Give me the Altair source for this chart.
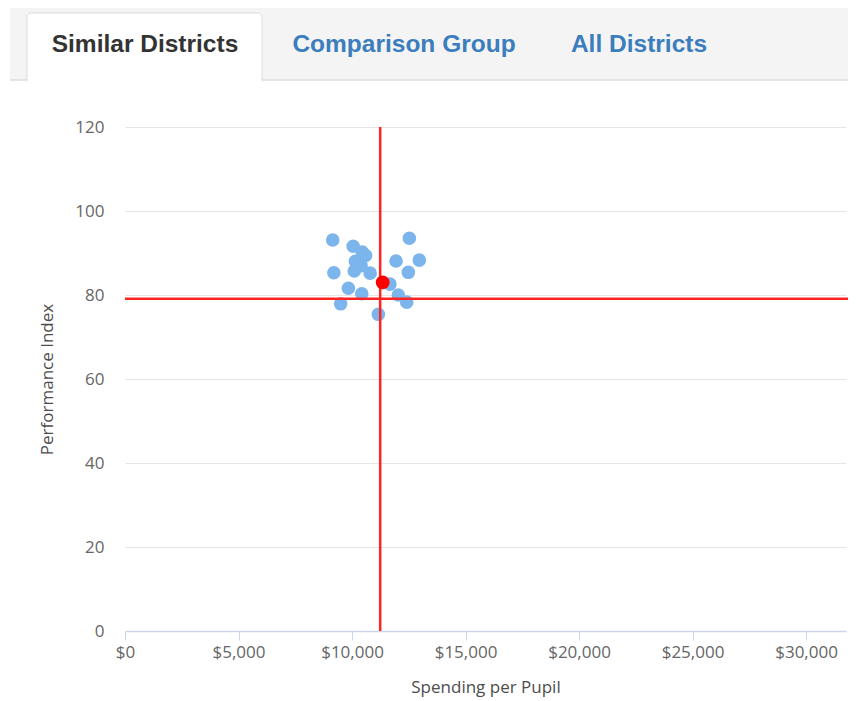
import altair as alt
import pandas as pd

# ---- data ----
spending = [9150, 12525, 10050, 10450, 10600, 10150, 10400, 10100, 10800, 9200,
            11940, 12965, 12480, 11670, 9840, 10430, 12040, 9500, 12410, 11160]
performance = [93.1, 93.5, 91.6, 90.2, 89.4, 88.0, 87.0, 85.7, 85.2, 85.3,
               88.1, 88.3, 85.4, 82.6, 81.6, 80.3, 80.0, 77.9, 78.3, 75.4]
district_spending = [11350]
district_performance = [83.0]
avg_spending = 11240
avg_performance = 79.1
tabs = ["Similar Districts", "Comparison Group", "All Districts"]
x_ticks = [0, 5000, 10000, 15000, 20000, 25000, 30000]
y_ticks = [0, 20, 40, 60, 80, 100, 120]

df = pd.DataFrame({"spending": spending, "performance": performance})
df_red = pd.DataFrame({"spending": district_spending, "performance": district_performance})

X = alt.X("spending:Q", title="Spending per Pupil",
          scale=alt.Scale(domain=[0, 31760], nice=False, zero=True),
          axis=alt.Axis(values=x_ticks, format="$,.0f"))
Y = alt.Y("performance:Q", title="Performance Index",
          scale=alt.Scale(domain=[0, 120], nice=False),
          axis=alt.Axis(values=y_ticks))

blue = alt.Chart(df).mark_circle(size=185, color="#7cb5ec", opacity=1).encode(x=X, y=Y)
red = alt.Chart(df_red).mark_circle(size=190, color="#ff0000", opacity=1).encode(x=X, y=Y)

one = alt.Data(values=[{}])
vline = alt.Chart(one).mark_rule(color="#ff2424", strokeWidth=2.5).encode(
    x=alt.datum(avg_spending))
hline = alt.Chart(one).mark_rule(color="#ff2424", strokeWidth=2.5).encode(
    y=alt.datum(avg_performance), x=alt.value(0), x2=alt.value(731))

# ---- tab bar decoration (pixel layout relative to plot origin) ----
band = alt.Chart(one).mark_rect(color="#f4f4f4").encode(
    x=alt.value(-115), x2=alt.value(731), y=alt.value(-121), y2=alt.value(-47))
band_line = alt.Chart(one).mark_rule(color="#dcdcdc", strokeWidth=1.5).encode(
    x=alt.value(-115), x2=alt.value(731), y=alt.value(-47))
tab_box = alt.Chart(one).mark_rect(fill="white", stroke="#dcdcdc", strokeWidth=1,
                                   cornerRadiusTopLeft=4, cornerRadiusTopRight=4).encode(
    x=alt.value(-98), x2=alt.value(137), y=alt.value(-114), y2=alt.value(-46))
tab_cover = alt.Chart(one).mark_rule(color="white", strokeWidth=3).encode(
    x=alt.value(-97.5), x2=alt.value(136.5), y=alt.value(-46))

tab_font = "Liberation Sans"
tab_size = 24.5
tab_active = alt.Chart(one).mark_text(text=tabs[0], font=tab_font, fontSize=tab_size,
                                      fontWeight="bold", color="#333333",
                                      baseline="middle", align="center").encode(
    x=alt.value(20), y=alt.value(-82))
tab_2 = alt.Chart(one).mark_text(text=tabs[1], font=tab_font, fontSize=tab_size,
                                 fontWeight="bold", color="#3b7dbd",
                                 baseline="middle", align="center").encode(
    x=alt.value(279), y=alt.value(-82))
tab_3 = alt.Chart(one).mark_text(text=tabs[2], font=tab_font, fontSize=tab_size,
                                 fontWeight="bold", color="#3b7dbd",
                                 baseline="middle", align="center").encode(
    x=alt.value(514), y=alt.value(-82))

chart = alt.layer(
    band, band_line, tab_box, tab_cover, tab_active, tab_2, tab_3,
    blue, vline, hline, red
).properties(
    width=721, height=504,
    autosize=alt.AutoSizeParams(type="none"),
    padding={"left": 117, "top": 119, "right": 2, "bottom": 66},
).configure_view(stroke=None).configure_axis(
    labelFont="Open Sans", titleFont="Open Sans",
    labelFontSize=17, titleFontSize=17,
    labelColor="#666666", titleColor="#4d4d4d", titleFontWeight="normal",
).configure_axisX(
    grid=False, domainColor="#ccd6eb", domainWidth=1.5, tickColor="#ccd6eb",
    tickSize=9, labelPadding=4, titlePadding=19, labelFlush=False,
).configure_axisY(
    grid=True, gridColor="#e6e6e6", domain=False, ticks=False, tickSize=0,
    labelPadding=21, titlePadding=18,
)

chart.save("out.html", embed_options={"renderer": "svg", "actions": False})
